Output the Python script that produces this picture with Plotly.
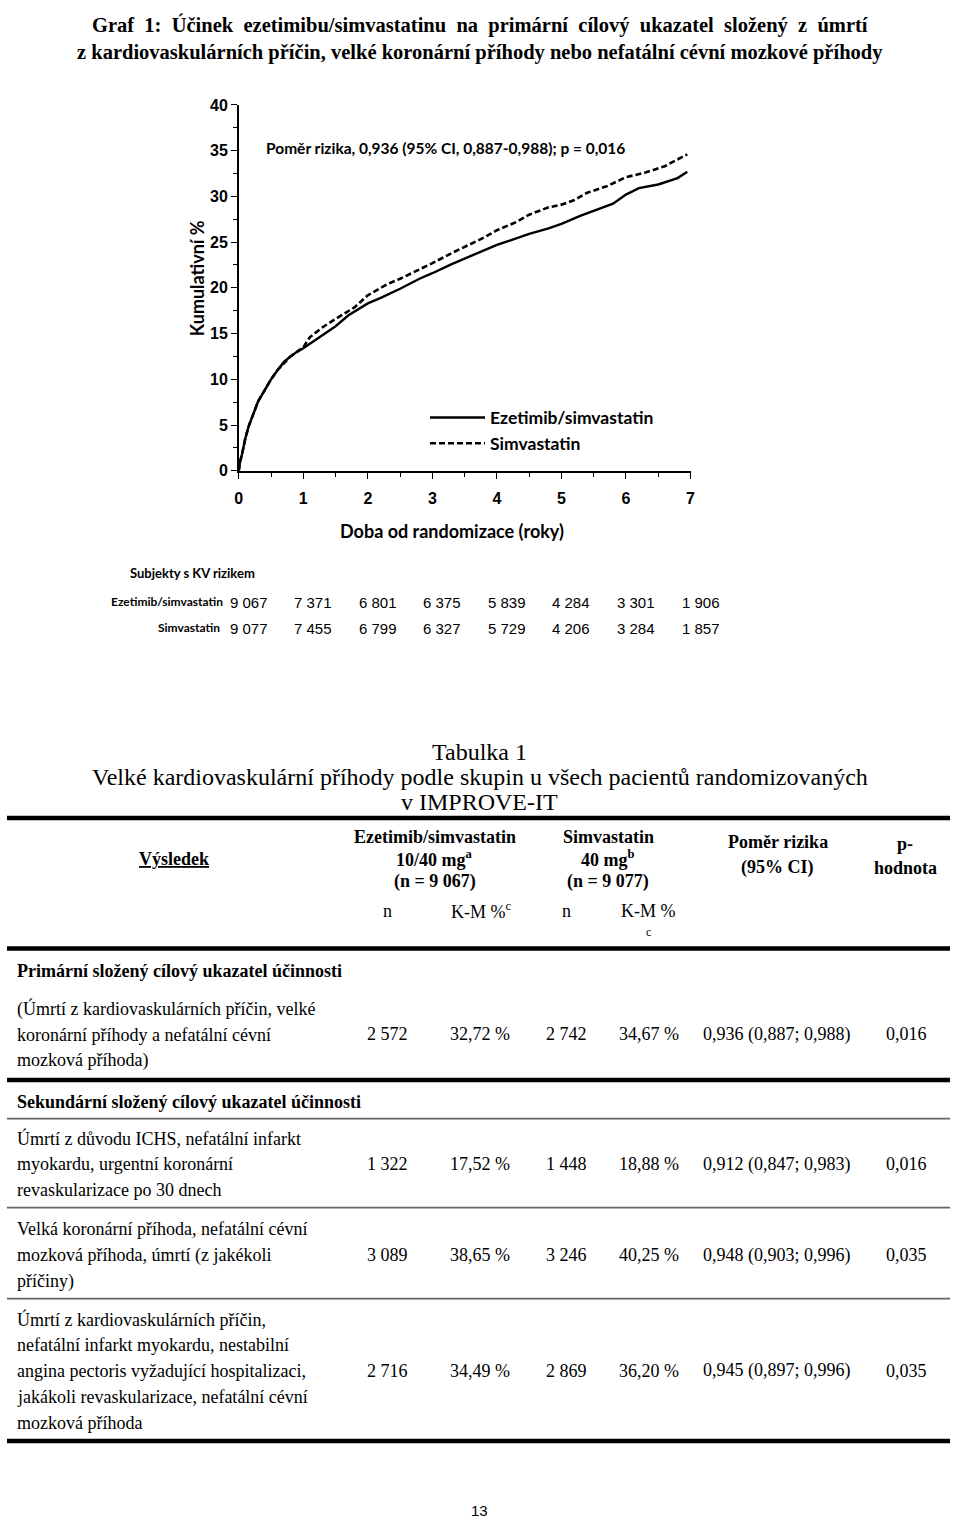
import plotly.graph_objects as go

W, H = 960, 1534

# ---------------- data ----------------
t_eze = [0, 0.02, 0.05, 0.1, 0.15, 0.2, 0.3, 0.4, 0.5, 0.6, 0.7, 0.8, 0.9, 1.0, 1.2, 1.4, 1.5,
         1.7, 2.0, 2.2, 2.5, 2.8, 3.0, 3.3, 3.5, 3.8, 4.0, 4.3, 4.5, 4.8, 5.0, 5.3, 5.5, 5.8,
         6.0, 6.2, 6.5, 6.8, 6.95]
y_eze = [0, 1.0, 1.8, 3.5, 4.8, 5.8, 7.6, 8.8, 10.0, 11.0, 11.9, 12.5, 13.0, 13.4, 14.4, 15.3, 15.8,
         17.0, 18.3, 18.9, 19.9, 21.0, 21.6, 22.6, 23.2, 24.1, 24.7, 25.4, 25.9, 26.5, 27.0, 27.9, 28.4,
         29.2, 30.2, 30.9, 31.3, 32.0, 32.7]

t_sim = [0, 0.02, 0.05, 0.1, 0.15, 0.2, 0.3, 0.4, 0.5, 0.6, 0.7, 0.8, 0.9, 1.0, 1.1, 1.3, 1.5,
         1.8, 2.0, 2.3, 2.5, 2.8, 3.0, 3.3, 3.5, 3.8, 4.0, 4.3, 4.5, 4.8, 5.0, 5.2, 5.4, 5.7,
         6.0, 6.3, 6.6, 6.95]
y_sim = [0, 1.0, 1.8, 3.5, 4.8, 5.8, 7.6, 8.8, 10.0, 11.0, 11.8, 12.5, 13.0, 13.5, 14.6, 15.7, 16.6,
         17.9, 19.2, 20.4, 21.0, 22.0, 22.7, 23.8, 24.5, 25.5, 26.3, 27.2, 28.0, 28.8, 29.1, 29.6, 30.4,
         31.1, 32.1, 32.6, 33.3, 34.6]

risk_times = [0, 1, 2, 3, 4, 5, 6, 7]
risk_eze = ["9 067", "7 371", "6 801", "6 375", "5 839", "4 284", "3 301", "1 906"]
risk_sim = ["9 077", "7 455", "6 799", "6 327", "5 729", "4 206", "3 284", "1 857"]

y_ticks = [0, 5, 10, 15, 20, 25, 30, 35, 40]
x_ticks = [0, 1, 2, 3, 4, 5, 6, 7]

tbl_n1 = ["2 572", "1 322", "3 089", "2 716"]
tbl_km1 = ["32,72 %", "17,52 %", "38,65 %", "34,49 %"]
tbl_n2 = ["2 742", "1 448", "3 246", "2 869"]
tbl_km2 = ["34,67 %", "18,88 %", "40,25 %", "36,20 %"]
tbl_hr = ["0,936 (0,887; 0,988)", "0,912 (0,847; 0,983)", "0,948 (0,903; 0,996)", "0,945 (0,897; 0,996)"]
tbl_p = ["0,016", "0,016", "0,035", "0,035"]
tbl_labels = [
    ["(Úmrtí z kardiovaskulárních příčin, velké", "koronární příhody a nefatální cévní", "mozková příhoda)"],
    ["Úmrtí z důvodu ICHS, nefatální infarkt", "myokardu, urgentní koronární", "revaskularizace po 30 dnech"],
    ["Velká koronární příhoda, nefatální cévní", "mozková příhoda, úmrtí (z jakékoli", "příčiny)"],
    ["Úmrtí z kardiovaskulárních příčin,", "nefatální infarkt myokardu, nestabilní",
     "angina pectoris vyžadující hospitalizaci,", "jakákoli revaskularizace, nefatální cévní", "mozková příhoda"],
]

# ---------------- layout helpers ----------------
def px(x):
    return x / W

def py(y):
    return 1 - y / H

SERIF = "Liberation Serif, Times New Roman, serif"
SANS = "Liberation Sans, Arial, sans-serif"
CAL = "Lato, Open Sans, sans-serif"

fig = go.Figure()
fig.add_trace(go.Scatter(x=t_eze, y=y_eze, mode="lines", name="Ezetimib/simvastatin",
                         line=dict(color="black", width=2.4)))
fig.add_trace(go.Scatter(x=t_sim, y=y_sim, mode="lines", name="Simvastatin",
                         line=dict(color="black", width=2.6, dash="6px,3px")))

x0p, x1p = 237, 693
y0p, y1p = 468, 98

fig.update_layout(
    width=W, height=H,
    margin=dict(l=0, r=0, t=0, b=0),
    paper_bgcolor="white", plot_bgcolor="white",
    showlegend=True,
    legend=dict(x=px(425), y=py(396), xanchor="left", yanchor="top",
                font=dict(family=CAL, size=17.5, color="black", weight="bold"),
                bgcolor="rgba(0,0,0,0)", itemwidth=55, tracegroupgap=0),
    xaxis=dict(domain=[px(x0p), px(x1p)], range=[0, 7], tickvals=x_ticks,
               showgrid=False, zeroline=False, showline=True, linecolor="black", linewidth=1.5,
               ticks="outside", ticklen=6, tickwidth=1.3, tickcolor="black", ticklabelstandoff=6,
               minor=dict(dtick=0.5, ticks="outside", ticklen=4, tickcolor="black", tickwidth=1),
               tickfont=dict(family=SANS, size=16, color="black", weight="bold"),
               fixedrange=True),
    yaxis=dict(domain=[py(y0p), py(y1p)], range=[0, 40], tickvals=y_ticks,
               showgrid=False, zeroline=False, showline=True, linecolor="black", linewidth=1.5,
               ticks="outside", ticklen=6, tickwidth=1.3, tickcolor="black",
               minor=dict(dtick=2.5, ticks="outside", ticklen=4, tickcolor="black", tickwidth=1),
               tickfont=dict(family=SANS, size=16, color="black", weight="bold"),
               fixedrange=True),
)

ann = []

def txt(x, y, s, size=18, family=SERIF, bold=False, xanchor="center", color="black", **kw):
    ann.append(dict(x=px(x), y=py(y), xref="paper", yref="paper", text=s, showarrow=False,
                    xanchor=xanchor, yanchor="middle",
                    font=dict(family=family, size=size, color=color, weight="bold" if bold else "normal"), **kw))

# Title (first line justified in the original -> widened word gaps)
line1 = "Graf 1: Účinek ezetimibu/simvastatinu na primární cílový ukazatel složený z úmrtí"
txt(480, 17, line1.replace(" ", " &nbsp;"), size=20.5, bold=True)
txt(480, 45, "z kardiovaskulárních příčin, velké koronární příhody nebo nefatální cévní mozkové příhody",
    size=20.5, bold=True)

# Axis titles
txt(452, 529, "Doba od randomizace (roky)", size=18, family=CAL, bold=True)
txt(195, 273, "Kumulativní %", size=18, family=CAL, bold=True, textangle=-90)

# HR annotation inside chart
txt(262, 142, "Poměr rizika, 0,936 (95% CI, 0,887-0,988); p = 0,016", size=15.5, family=CAL, bold=True,
    xanchor="left")

# Number at risk
txt(125, 571, "Subjekty s KV rizikem", size=13, family=CAL, bold=True, xanchor="left")
txt(223, 600, "Ezetimib/simvastatin", size=12, family=CAL, bold=True, xanchor="right")
txt(220, 626, "Simvastatin", size=12, family=CAL, bold=True, xanchor="right")
for t, a, b in zip(risk_times, risk_eze, risk_sim):
    for val, yy in ((a, 601), (b, 627)):
        ann.append(dict(x=t, y=py(yy), xref="x", yref="paper", text=val, showarrow=False,
                        xanchor="center", yanchor="middle", xshift=10,
                        font=dict(family="Liberation Sans Narrow, " + SANS, size=15, color="black")))

# Table title
txt(480, 752, "Tabulka 1", size=24)
txt(480, 778, "Velké kardiovaskulární příhody podle skupin u všech pacientů randomizovaných", size=24)
txt(480, 803, "v IMPROVE-IT", size=24)

# Header
txt(172, 861, "<u>Výsledek</u>", bold=True)
txt(435, 838, "Ezetimib/simvastatin", bold=True)
txt(435, 860, "10/40 mg<sup>a</sup>", bold=True)
txt(435, 883, "(n = 9 067)", bold=True)
txt(610, 838, "Simvastatin", bold=True)
txt(610, 860, "40 mg<sup>b</sup>", bold=True)
txt(610, 883, "(n = 9 077)", bold=True)
txt(781, 843, "Poměr rizika", bold=True)
txt(781, 869, "(95% CI)", bold=True)
txt(910, 845, "p-", bold=True)
txt(910, 870, "hodnota", bold=True)
txt(387, 913, "n")
txt(482, 913, "K-M %<sup>c</sup>")
txt(568, 913, "n")
txt(651, 913, "K-M %")
txt(651, 934, "c", size=12)

# Section labels
txt(11, 974, "Primární složený cílový ukazatel účinnosti", bold=True, xanchor="left")
txt(11, 1106, "Sekundární složený cílový ukazatel účinnosti", bold=True, xanchor="left")

row_first_line = [1012, 1143, 1235, 1326]
row_value_y = [1038, 1169, 1261, 1378]
col_x = [387, 480, 568, 651, 780, 911]
for i in range(4):
    for j, line in enumerate(tbl_labels[i]):
        txt(11, row_first_line[i] + j * 26.2, line, xanchor="left")
    for cx, col in zip(col_x, [tbl_n1, tbl_km1, tbl_n2, tbl_km2, tbl_hr, tbl_p]):
        txt(cx, row_value_y[i], col[i])

# Page number
txt(480, 1519, "13", size=15, family=SANS)

fig.update_layout(annotations=ann)

shapes = []
def hline(y, width, color="black", x0=3, x1=955):
    shapes.append(dict(type="line", xref="paper", yref="paper", x0=px(x0), x1=px(x1),
                       y0=py(y), y1=py(y), line=dict(color=color, width=width)))

hline(819, 4.5)
hline(951, 4.5)
hline(1084, 4.5)
hline(1123, 1.8, color="#666666")
hline(1213, 1.8, color="#666666")
hline(1305, 1.8, color="#666666")
hline(1449, 4.5)
fig.update_layout(shapes=shapes)

fig.write_html("out.html")
